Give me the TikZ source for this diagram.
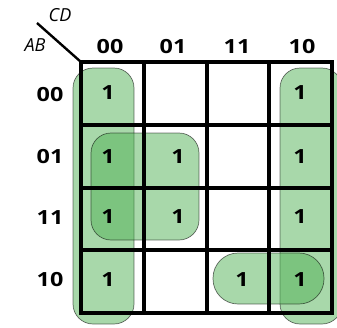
\documentclass[tikz,border=0pt]{standalone}
\usepackage{fontspec}
\setmainfont{Open Sans}
\newfontfamily\widefont[FakeStretch=1.2]{Open Sans}
\usetikzlibrary{positioning}

\definecolor{loopgreen}{RGB}{81,177,85}

\begin{document}
\begin{tikzpicture}[x=1pt,y=-1pt,
  digits/.style={font=\widefont\bfseries\fontsize{19.5}{19.5}\selectfont,inner sep=0pt},
  var/.style={font=\itshape\fontsize{18}{18}\selectfont,inner sep=0pt},
  kloop/.style={fill=loopgreen,fill opacity=0.5,draw=black,draw opacity=0.55,line width=0.7pt},
  kline/.style={line width=4pt}]
  \useasboundingbox (0,0) rectangle (337,327);
  % groups
  \draw[kloop,rounded corners=20pt] (73,68)  rectangle (134,324);
  \draw[kloop,rounded corners=20pt] (280,68) rectangle (342,324);
  \draw[kloop,rounded corners=20pt] (91,133) rectangle (199,240);
  \draw[kloop,rounded corners=25pt] (213,253) rectangle (324,304);
  % map
  \coordinate (NW) at (81,62);
  \coordinate (SE) at (332,313);
  \draw[kline] (NW) rectangle (SE);
  \foreach \i in {1,2,3} {
    \draw[kline] (81+62.75*\i,62) -- (81+62.75*\i,313);
    \draw[kline] (81,62+62.75*\i) -- (332,62+62.75*\i);
  }
  \coordinate (tail) at (37,23);
  \draw[line width=2.4pt] (tail) -- (NW);
  \node[var] (CD) at (60,15) {CD};
  \node[var] (AB) at (35,45) {AB};
  % headers
  \foreach \n/\x in {00/110,01/173,11/237,10/302}
    \node[digits] (c\n) at (\x,47) {\n};
  \foreach \n/\y in {00/95,01/157,11/218,10/280}
    \node[digits] (r\n) at (50,\y) {\n};
  % ones
  \foreach \n/\x/\y in {m0000/108/93,m0010/300/93,
                        m0100/108/157,m0101/178/157,m0110/300/157,
                        m1100/108/217,m1101/178/217,m1110/300/217,
                        m1000/108/280,m1011/242/280,m1010/300/280}
    \node[digits] (\n) at (\x,\y) {1};
\end{tikzpicture}
\end{document}
